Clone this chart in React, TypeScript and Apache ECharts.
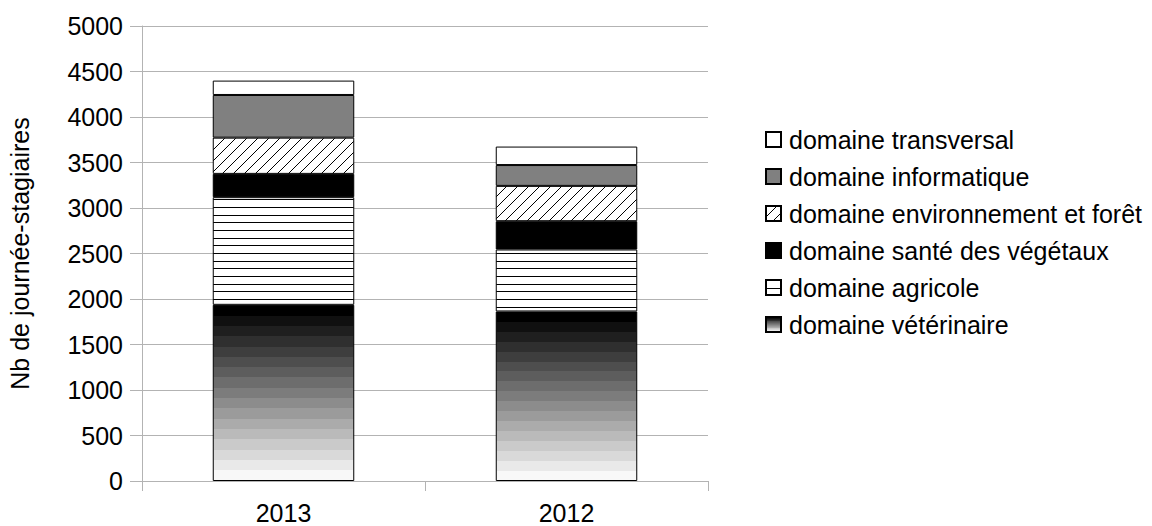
import React, { useEffect, useRef } from "react";
import * as echarts from "echarts";

const categories = ["2013", "2012"];
const veterinaire = [1936, 1863];
const agricole = [1183, 681];
const sante = [256, 311];
const environnement = [398, 388];
const informatique = [469, 229];
const transversal = [158, 203];

const yMin = 0;
const yMax = 5000;
const yInterval = 500;

const FONT = "Liberation Sans, Arial, sans-serif";
const FS = 25;

function hatchPattern() {
  const s = 11;
  const c = document.createElement("canvas");
  c.width = s;
  c.height = s;
  const ctx = c.getContext("2d")!;
  ctx.fillStyle = "#fff";
  ctx.fillRect(0, 0, s, s);
  ctx.fillStyle = "#000";
  for (let i = 0; i < s; i++) {
    ctx.fillRect(i, s - 1 - i, 1, 1);
  }
  return { image: c.toDataURL(), repeat: "repeat", imageWidth: s, imageHeight: s };
}

function stripePattern() {
  const w = 8;
  const h = 23;
  const c = document.createElement("canvas");
  c.width = w;
  c.height = h;
  const ctx = c.getContext("2d")!;
  ctx.fillStyle = "#fff";
  ctx.fillRect(0, 0, w, h);
  ctx.fillStyle = "#000";
  ctx.fillRect(0, 0, w, 1);
  ctx.fillRect(0, 8, w, 1);
  ctx.fillRect(0, 15, w, 1);
  return { image: c.toDataURL(), repeat: "repeat", imageWidth: w, imageHeight: h };
}

function bandedGradient() {
  const n = 17;
  const stops: { offset: number; color: string }[] = [];
  for (let i = 0; i < n; i++) {
    const v = Math.round((i / (n - 1)) * 248);
    const hex = v.toString(16).padStart(2, "0");
    const col = "#" + hex + hex + hex;
    stops.push({ offset: i / n, color: col });
    stops.push({ offset: (i + 1) / n, color: col });
  }
  return new echarts.graphic.LinearGradient(0, 0, 0, 1, stops);
}

export default function App() {
  const ref = useRef<HTMLDivElement>(null);
  useEffect(() => {
    if (!ref.current) return;
    const chart = echarts.init(ref.current, undefined, { renderer: "svg" });
    const border = { borderColor: "#000", borderWidth: 1 };
    const mk = (name: string, data: number[], color: any) => ({
      name,
      type: "bar",
      stack: "total",
      data,
      barWidth: "50%",
      itemStyle: { color, ...border },
      emphasis: { disabled: true },
    });
    chart.setOption({
      animation: false,
      textStyle: { fontFamily: FONT },
      grid: { left: 142, right: 444, top: 26, bottom: 45 },
      legend: {
        orient: "vertical",
        left: 765,
        top: 127,
        padding: 0,
        itemWidth: 15,
        itemHeight: 15,
        itemGap: 12,
        icon: "rect",
        selectedMode: false,
        textStyle: { fontFamily: FONT, fontSize: FS, color: "#000", lineHeight: 25, padding: [0, 0, 0, 3] },
        data: [
          "domaine transversal",
          "domaine informatique",
          "domaine environnement et forêt",
          "domaine santé des végétaux",
          "domaine agricole",
          "domaine vétérinaire",
        ],
      },
      xAxis: {
        type: "category",
        data: categories,
        axisLine: { lineStyle: { color: "#b3b3b3", width: 1 } },
        axisTick: { show: true, length: 10, lineStyle: { color: "#b3b3b3" } },
        axisLabel: { fontFamily: FONT, fontSize: FS, color: "#000", margin: 19 },
      },
      yAxis: {
        type: "value",
        min: yMin,
        max: yMax,
        interval: yInterval,
        name: "Nb de journée-stagiaires",
        nameLocation: "middle",
        nameGap: 110,
        nameTextStyle: { fontFamily: FONT, fontSize: FS, color: "#000" },
        axisLine: { show: true, lineStyle: { color: "#b3b3b3", width: 1 } },
        axisTick: { show: true, length: 12, lineStyle: { color: "#b3b3b3" } },
        splitLine: { show: true, lineStyle: { color: "#b3b3b3", width: 1 } },
        axisLabel: {
          fontFamily: FONT,
          fontSize: FS,
          color: "#000",
          margin: 19,
          formatter: (v: number) => String(v),
        },
      },
      series: [
        mk("domaine vétérinaire", veterinaire, bandedGradient()),
        mk("domaine agricole", agricole, stripePattern()),
        mk("domaine santé des végétaux", sante, "#000000"),
        mk("domaine environnement et forêt", environnement, hatchPattern()),
        mk("domaine informatique", informatique, "#808080"),
        mk("domaine transversal", transversal, "#ffffff"),
      ],
    });
    return () => chart.dispose();
  }, []);
  return <div ref={ref} style={{ width: 1152, height: 526, position: "absolute", left: 0, top: 0 }} />;
}
